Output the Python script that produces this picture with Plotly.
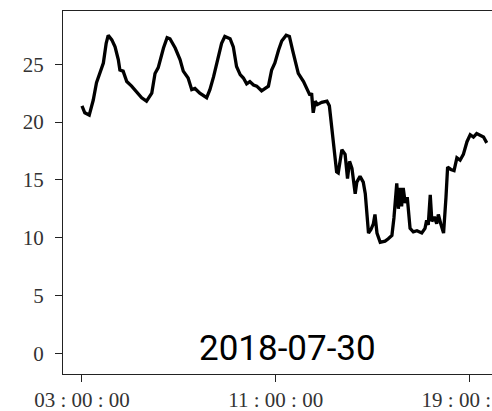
import plotly.graph_objects as go

times = ["03:00","03:07","03:18","03:28","03:36","03:45","03:53","04:00","04:05","04:14",
         "04:22","04:30","04:34","04:42","04:51","05:03","05:16","05:28","05:40","05:53",
         "06:01","06:09","06:22","06:31","06:38","06:51","07:03","07:11","07:23","07:32",
         "07:40","07:52","08:09","08:17","08:26","08:34","08:46","08:54","09:07","09:15",
         "09:23","09:32","09:40","09:48","09:56","10:05","10:13","10:25","10:34","10:42",
         "10:50","10:58","11:07","11:15","11:26","11:34","11:42","11:50","11:56","12:09",
         "12:19","12:25","12:29","12:33","12:38","12:43","12:54","13:07","13:13","13:23",
         "13:31","13:35","13:44","13:52","13:58","14:03","14:09","14:17","14:21","14:29",
         "14:37","14:42","14:46","14:50","14:56","15:02","15:06","15:11","15:19","15:31",
         "15:39","15:48","15:53","16:00","16:04","16:08","16:12","16:16","16:21","16:26",
         "16:33","16:41","16:50","17:02","17:10","17:14","17:18","17:23","17:27","17:33",
         "17:39","17:43","17:49","17:56","18:02","18:06","18:14","18:22","18:29","18:37",
         "18:45","18:54","19:02","19:10","19:18","19:27","19:35","19:43"]
values = [21.4,20.8,20.6,21.9,23.4,24.2,25.1,26.8,27.5,27.1,
          26.5,25.4,24.5,24.4,23.5,23.1,22.6,22.1,21.8,22.5,
          24.2,24.7,26.4,27.3,27.2,26.4,25.4,24.4,23.8,22.8,
          22.9,22.5,22.1,22.8,23.9,25.1,26.8,27.4,27.2,26.5,
          24.8,24.1,23.8,23.3,23.5,23.2,23.1,22.7,22.9,23.1,
          24.5,25.1,26.2,27.0,27.5,27.4,26.2,25.1,24.2,23.5,
          22.8,22.3,22.5,20.8,21.8,21.5,21.7,21.8,21.4,18.5,
          15.7,15.6,17.6,17.2,15.1,16.6,16.0,13.8,14.8,15.3,
          14.8,13.8,12.4,10.4,10.7,11.2,12.0,10.4,9.6,9.7,
          9.9,10.2,11.7,14.7,12.5,14.3,12.7,14.3,13.0,13.5,
          10.8,10.5,10.6,10.4,10.8,11.5,11.1,13.7,11.4,11.8,
          11.2,12.0,11.2,10.4,13.5,16.1,15.9,15.8,16.9,16.7,
          17.2,18.3,18.9,18.7,19.0,18.8,18.7,18.2]
day = "2018-07-30"
x_ticks = ["03:00", "11:00", "19:00"]
x_ticktext = ["03 : 00 : 00", "11 : 00 : 00", "19 : 00 : 00"]
y_ticks = [0, 5, 10, 15, 20, 25]

fig = go.Figure()
fig.add_trace(go.Scatter(
    x=[f"{day} {t}" for t in times], y=values, mode="lines",
    line=dict(color="black", width=3.3), showlegend=False))

tickfont = dict(family="Liberation Serif", size=21, color="#333")
fig.update_layout(
    width=492, height=411,
    margin=dict(l=63, r=0, t=11, b=37, pad=0),
    plot_bgcolor="white", paper_bgcolor="white",
    xaxis=dict(type="date", range=[f"{day} 02:13", f"{day} 19:56"],
               tickvals=[f"{day} {t}" for t in x_ticks], ticktext=x_ticktext,
               showgrid=False, zeroline=False, showline=True, mirror=True,
               linecolor="#222", linewidth=1.3, ticks="outside", ticklen=7,
               tickwidth=1.2, tickcolor="#222", tickfont=tickfont,
               automargin=False, ticklabelstandoff=0,
               ticklabeloverflow="allow"),
    yaxis=dict(range=[-1.79, 29.6], tickvals=y_ticks,
               showgrid=False, zeroline=False, showline=True, mirror=False,
               linecolor="#222", linewidth=1.3, ticks="outside", ticklen=7,
               tickwidth=1.2, tickcolor="#222", tickfont=tickfont,
               automargin=False, ticklabelstandoff=7),
    annotations=[dict(text=day, xref="paper", yref="paper", x=0.523, y=0.07,
                      xanchor="center", yanchor="middle", showarrow=False,
                      font=dict(family="Roboto", size=35, color="black"))],
)
fig.write_html("out.html", config={"displayModeBar": False},
               post_script="document.body.style.margin='0';document.body.style.overflow='hidden';")
